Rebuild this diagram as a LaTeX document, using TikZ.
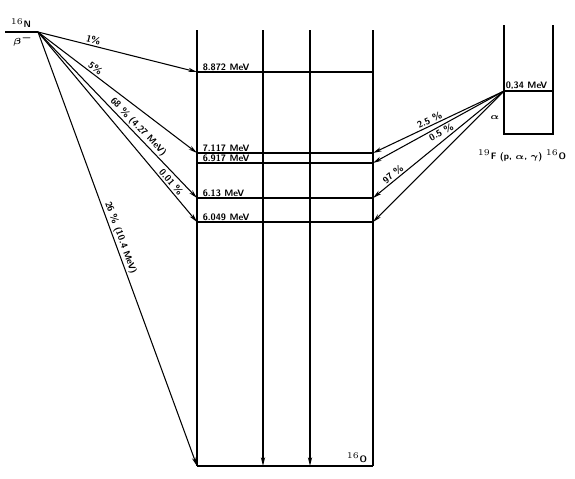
\documentclass[tikz,border=0pt]{standalone}
\usepackage{graphicx,amsmath,xcolor}
\usepackage{tikz}
\usetikzlibrary{arrows.meta}
\begin{document}
\begin{tikzpicture}[x=0.02cm,y=-0.02cm]
                \tikzstyle{lvl}=[line width=1.1pt]
                \tikzstyle{wall}=[line width=0.6pt]
                \tikzstyle{tr}=[line width=0.6pt,-{Stealth[length=5pt,width=2.4pt]}]
                \tikzstyle{lab}=[font=\fontsize{5.3}{6.3}\selectfont\sffamily\bfseries,inner sep=0.8pt]
                \newcommand\level[3]{\coordinate (#1a) at (197,#2);%
                \coordinate (#1b) at (373,#2);%
                \draw[lvl] (#1a) -- (#1b);%
                \node[lab,above right] at (201,#2) (#1) {#3 MeV};}
                \useasboundingbox (0,0) rectangle (575,478);
                \foreach \x/\n in {197/1,263/2,310/3,373/4}
                  {\coordinate (t\n) at (\x,30); \coordinate (g\n) at (\x,466);}
                \draw[wall] (t1) -- (g1) (t4) -- (g4);
                \draw[wall,-{Stealth[length=5pt,width=2.4pt]}] (t2) -- (g2);
                \draw[wall,-{Stealth[length=5pt,width=2.4pt]}] (t3) -- (g3);
                \level{L8872}{72}{8.872};
                \level{L7117}{153}{7.117};
                \level{L6917}{163}{6.917};
                \level{L6130}{198}{6.13};
                \level{L6049}{222}{6.049};
                \draw[lvl] (g1) -- (g4);
                \node[lab] at (357,458) (O16) {$^{16}$O};
                \coordinate (N) at (38,32);
                \coordinate (Nl) at (5,32);
                \draw[wall] (Nl) -- (N);
                \node[lab] at (21,23) (Nname) {$^{16}$N};
                \node[lab] at (23,40) (beta) {$\boldsymbol{\beta^-}$};
                \draw[tr] (N) -- node[lab,sloped,above,pos=0.34] {1\%} (L8872a);
                \draw[tr] (N) -- node[lab,sloped,above,pos=0.34] {5\%} (L7117a);
                \draw[tr] (N) -- node[lab,sloped,above,pos=0.6] {68 \% (4.27 MeV)} (L6130a);
                \draw[tr] (N) -- node[lab,sloped,above,pos=0.81] {0.01 \%} (L6049a);
                \draw[tr] (N) -- node[lab,sloped,above,pos=0.48] {26 \% (10.4 MeV)} (g1);
                \coordinate (F) at (504,91);
                \coordinate (Fr) at (553,91);
                \coordinate (Ft) at (504,25);
                \coordinate (Fb) at (504,134);
                \coordinate (Frt) at (553,25);
                \coordinate (Frb) at (553,134);
                \draw[wall] (Ft) -- (Fb) -- (Frb) -- (Frt);
                \draw[lvl] (F) -- (Fr);
                \node[lab,above right] at (504,91) (F034) {0,34 MeV};
                \node[lab] at (495,118) (alpha) {$\boldsymbol{\alpha}$};
                \node[lab] at (522,156) (reac) {$^{19}$F (p, $\boldsymbol{\alpha}$, $\boldsymbol{\gamma}$) $^{16}$O};
                \draw[tr] (F) -- node[lab,sloped,above,pos=0.55] {2.5 \%} (L7117b);
                \draw[tr] (F) -- node[lab,sloped,below,pos=0.5] {0.5 \%} (L6917b);
                \draw[tr] (F) -- node[lab,sloped,above,pos=0.82] {97 \%} (L6130b);
                \draw[tr] (F) -- (L6049b);
            \end{tikzpicture}
\end{document}
